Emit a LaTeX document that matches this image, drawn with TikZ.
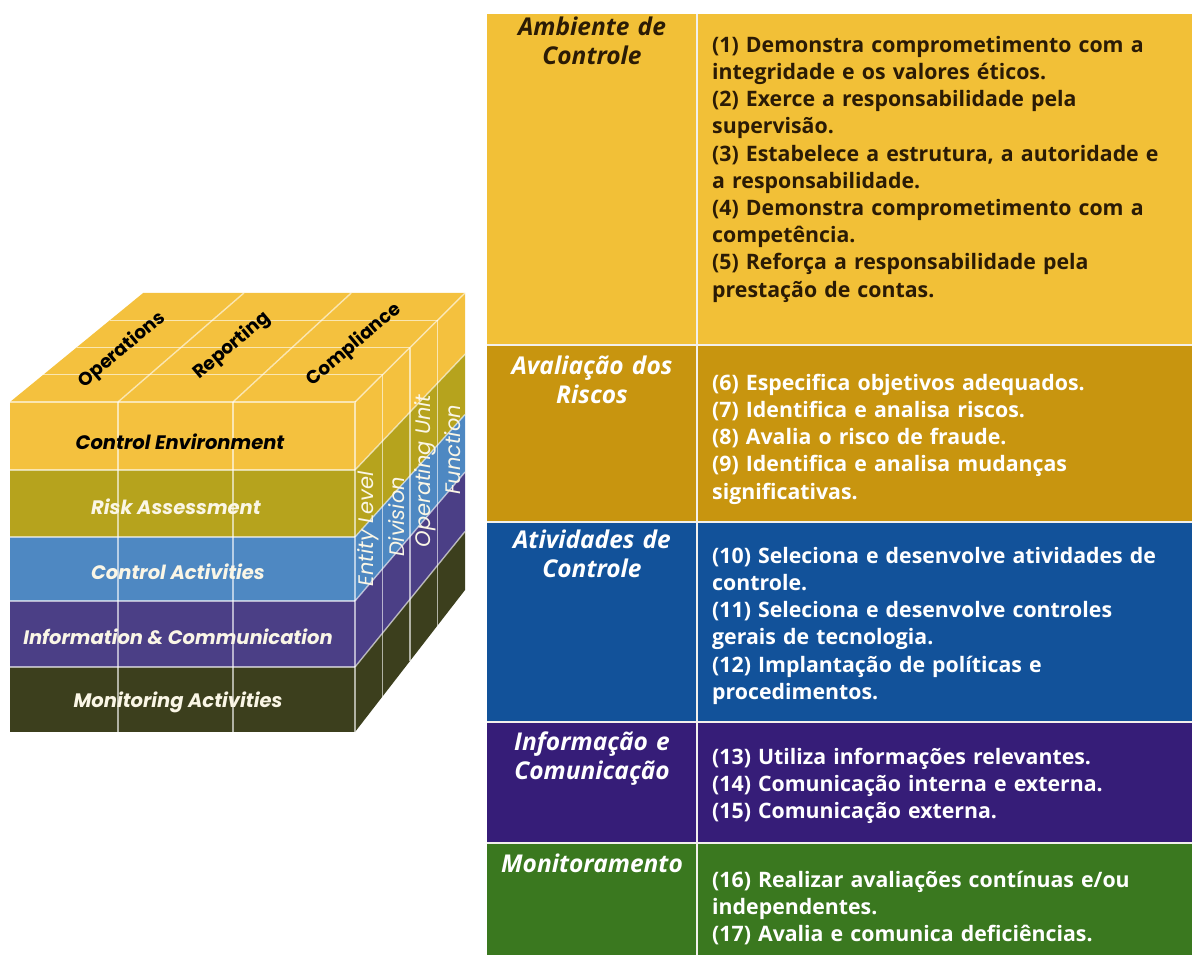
\documentclass[tikz,border=0pt]{standalone}
\usepackage{fontspec}
\setmainfont{Open Sans}
\newfontfamily\cubefont{Poppins}
\usetikzlibrary{calc}

\definecolor{tYel}{HTML}{F2C037}
\definecolor{tGold}{HTML}{C8950F}
\definecolor{tBlue}{HTML}{12529A}
\definecolor{tPur}{HTML}{361D78}
\definecolor{tGrn}{HTML}{3A781F}
\definecolor{tDark}{HTML}{2B1B05}
\definecolor{cYel}{HTML}{F4C13E}
\definecolor{cOli}{HTML}{B6A31D}
\definecolor{cBlu}{HTML}{4E88C2}
\definecolor{cPur}{HTML}{4B3F86}
\definecolor{cDrk}{HTML}{3C3F1D}
\definecolor{cream}{HTML}{FAF6E6}
\definecolor{sepc}{HTML}{F2F0EC}

\newcommand\defpt[4]{\coordinate (#1) at ({#2+(#4)*(133.8-0.067*(#2))},{#3+(#4)*(-68.8-0.1*(#3))});}

\begin{document}
\begin{tikzpicture}[x=1pt,y=-1pt,
  bodytxt/.style={anchor=north west, inner sep=0pt, text width=478pt, align=left,
    font=\fontsize{21.3}{27.2}\selectfont\bfseries},
  headtxt/.style={anchor=north, inner sep=0pt, text width=205pt, align=center,
    font=\fontsize{24.5}{29}\selectfont\bfseries\itshape},
  sepline/.style={draw=sepc, line width=2.6pt},
  cubegrid/.style={draw=white, draw opacity=0.6, line width=1.4pt},
  fronttxt/.style={inner sep=0pt, font=\cubefont\fontsize{19.5}{22}\selectfont\bfseries\itshape},
  toptxt/.style={inner sep=0pt, rotate=40, text=black, font=\cubefont\fontsize{18.5}{20}\selectfont\bfseries},
  sidetxt/.style={inner sep=0pt, rotate=90, text=cream, font=\cubefont\fontsize{21}{22}\selectfont\itshape}]
\useasboundingbox (0,0) rectangle (1192,955);
\fill[white] (0,0) rectangle (1192,955);

% ---------------- table ----------------
\fill[tYel]  (487,14)  rectangle (1192,345);
\fill[tGold] (487,345) rectangle (1192,522);
\fill[tBlue] (487,522) rectangle (1192,722);
\fill[tPur]  (487,722) rectangle (1192,843);
\fill[tGrn]  (487,843) rectangle (1192,955);
\draw[sepline] (487,345) -- (1192,345);
\draw[sepline] (487,522) -- (1192,522);
\draw[sepline] (487,722) -- (1192,722);
\draw[sepline] (487,843) -- (1192,843);
\draw[sepline] (697,14) -- (697,955);

\node[headtxt, text=tDark] (h1) at (592,14.7) {\strut Ambiente de\\Controle};
\node[headtxt, text=white] (h2) at (592,353.7) {\strut Avaliação dos\\Riscos};
\node[headtxt, text=white] (h3) at (592,527.7) {\strut Atividades de\\Controle};
\node[headtxt, text=white] (h4) at (592,729.7) {\strut Informação e\\Comunicação};
\node[headtxt, text=white] (h5) at (592,851.7) {\strut Monitoramento};

\node[bodytxt, text=tDark] (b1) at (712,33) {\strut (1) Demonstra comprometimento com a\\
integridade e os valores éticos.\\
(2) Exerce a responsabilidade pela\\
supervisão.\\
(3) Estabelece a estrutura, a autoridade e\\
a responsabilidade.\\
(4) Demonstra comprometimento com a\\
competência.\\
(5) Reforça a responsabilidade pela\\
prestação de contas.};
\node[bodytxt, text=white] (b2) at (712,371) {\strut (6) Especifica objetivos adequados.\\
(7) Identifica e analisa riscos.\\
(8) Avalia o risco de fraude.\\
(9) Identifica e analisa mudanças\\
significativas.};
\node[bodytxt, text=white] (b3) at (712,544) {\strut (10) Seleciona e desenvolve atividades de\\
controle.\\
(11) Seleciona e desenvolve controles\\
gerais de tecnologia.\\
(12) Implantação de políticas e\\
procedimentos.};
\node[bodytxt, text=white] (b4) at (712,745) {\strut (13) Utiliza informações relevantes.\\
(14) Comunicação interna e externa.\\
(15) Comunicação externa.};
\node[bodytxt, text=white] (b5) at (712,868) {\strut (16) Realizar avaliações contínuas e/ou\\
independentes.\\
(17) Avalia e comunica deficiências.};

% ---------------- cube ----------------
\foreach \y in {402,470,537,601,667,732} {
  \defpt{F\y}{355}{\y}{0}
  \defpt{B\y}{355}{\y}{1}
}
\foreach \d/\n in {0/0,0.25/1,0.5/2,0.75/3,1/4} {
  \defpt{TL\n}{10}{402}{\d}
  \defpt{TR\n}{355}{402}{\d}
  \defpt{BR\n}{355}{732}{\d}
}
\foreach \x in {118,233} {
  \defpt{C\x a}{\x}{402}{0}
  \defpt{C\x b}{\x}{402}{1}
}

% front face
\fill[cYel] (10,402) rectangle (355,470);
\fill[cOli] (10,470) rectangle (355,537);
\fill[cBlu] (10,537) rectangle (355,601);
\fill[cPur] (10,601) rectangle (355,667);
\fill[cDrk] (10,667) rectangle (355,732);
% top face
\fill[cYel] (TL0) -- (TR0) -- (TR4) -- (TL4) -- cycle;
% right face
\fill[cYel] (F402) -- (B402) -- (B470) -- (F470) -- cycle;
\fill[cOli] (F470) -- (B470) -- (B537) -- (F537) -- cycle;
\fill[cBlu] (F537) -- (B537) -- (B601) -- (F601) -- cycle;
\fill[cPur] (F601) -- (B601) -- (B667) -- (F667) -- cycle;
\fill[cDrk] (F667) -- (B667) -- (B732) -- (F732) -- cycle;

% grid lines
\foreach \x in {118,233} {
  \draw[cubegrid] (\x,402) -- (\x,732);
  \draw[cubegrid] (C\x a) -- (C\x b);
}
\foreach \y in {470,537,601,667} {
  \draw[cubegrid] (10,\y) -- (355,\y);
  \draw[cubegrid] (F\y) -- (B\y);
}
\foreach \n in {1,2,3} {
  \draw[cubegrid] (TL\n) -- (TR\n);
  \draw[cubegrid] (TR\n) -- (BR\n);
}
\draw[cubegrid] (TL0) -- (TR0) -- (BR0);
\draw[cubegrid] (TR0) -- (TR4);

% front labels
\node[fronttxt, text=black] (ce) at (180,442) {Control Environment};
\node[fronttxt, text=cream] (ra) at (176,507) {Risk Assessment};
\node[fronttxt, text=cream] (ca) at (178,572) {Control Activities};
\node[fronttxt, text=cream] (ic) at (178,637) {Information \& Communication};
\node[fronttxt, text=cream] (ma) at (178,702) {Monitoring Activities};

% top labels
\node[toptxt] (op) at (122,350) {Operations};
\node[toptxt] (rp) at (232,346) {Reporting};
\node[toptxt] (cp) at (354,345) {Compliance};

% side labels
\node[sidetxt] (el) at (368,529) {Entity Level};
\node[sidetxt] (dv) at (397,517) {Division};
\node[sidetxt] (ou) at (425,471) {Operating Unit};
\node[sidetxt] (fn) at (453,450) {Function};
\end{tikzpicture}
\end{document}
